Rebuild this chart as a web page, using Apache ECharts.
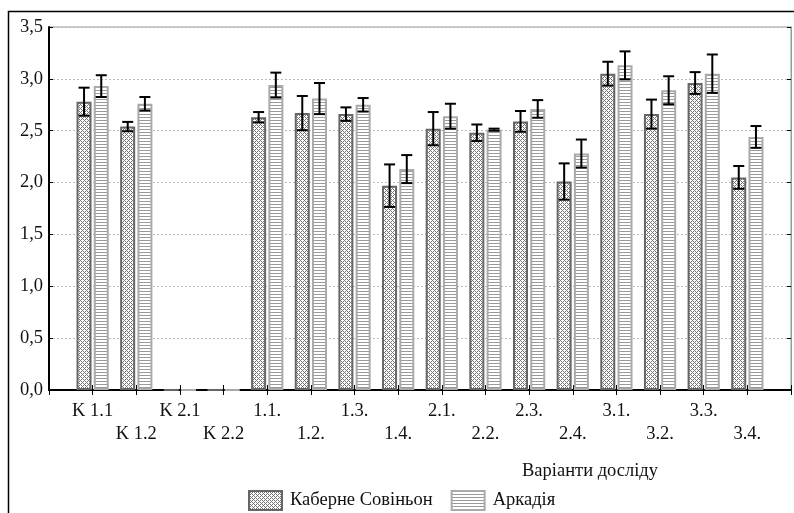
<!DOCTYPE html>
<html>
<head>
<meta charset="utf-8">
<script src="https://cdn.jsdelivr.net/npm/echarts@6/dist/echarts.min.js"></script>
<style>html,body{margin:0;padding:0;background:#fff}#c{width:794px;height:513px}</style>
</head>
<body>
<div id="c"></div>
<script>
// ---- data ----
const categories = ['K 1.1','K 1.2','K 2.1','K 2.2','1.1.','1.2.','1.3.','1.4.','2.1.','2.2.','2.3.','2.4.','3.1.','3.2.','3.3.','3.4.'];
const seriesNames = ['Каберне Совіньон','Аркадія'];
const cabernet    = [2.78,2.54,0,0,2.63,2.67,2.66,1.97,2.52,2.48,2.59,2.01,3.05,2.66,2.96,2.05];
const cabernetErr = [0.135,0.045,0,0,0.05,0.165,0.065,0.205,0.16,0.08,0.10,0.175,0.115,0.14,0.105,0.11];
const arkadia     = [2.93,2.76,0,0,2.94,2.81,2.75,2.13,2.64,2.51,2.71,2.28,3.13,2.89,3.05,2.44];
const arkadiaErr  = [0.105,0.065,0,0,0.12,0.15,0.065,0.135,0.12,0.01,0.085,0.135,0.135,0.135,0.185,0.105];
const yTicks = [0,0.5,1,1.5,2,2.5,3,3.5];
const xAxisTitle = 'Варіанти досліду';

// padded axis so categories sit on ticks like the reference
const axisCats = [''].concat(categories).concat(['']);
const pad = arr => [null].concat(arr).concat([null]);

function crossPattern(){
  const p=4, c=document.createElement('canvas'); c.width=p; c.height=p;
  const g=c.getContext('2d'); g.fillStyle='#fff'; g.fillRect(0,0,p,p);
  g.fillStyle='#757575';
  for(let y=0;y<p;y++) for(let x=0;x<p;x++){
    if(((x-y)%p+p)%p===0 || (x+y)%p===0) g.fillRect(x,y,1,1);
  }
  return c;
}
function stripePattern(){
  const c=document.createElement('canvas'); c.width=4; c.height=3;
  const g=c.getContext('2d'); g.fillStyle='#fff'; g.fillRect(0,0,4,3);
  g.fillStyle='#9a9a9a'; g.fillRect(0,0,4,1);
  return c;
}
const crossFill = {image: crossPattern(), repeat:'repeat'};
const stripeFill = {image: stripePattern(), repeat:'repeat'};

function errSeries(vals, errs, offset){
  const data = vals.map((v,i)=>[i+1, v, errs[i]]);
  return {
    type:'custom', xAxisIndex:0, yAxisIndex:0, silent:true, z:10,
    data: data,
    renderItem: function(params, api){
      const x = api.value(0), v = api.value(1), e = api.value(2);
      if(!v || !e) return null;
      const hi = api.coord([x, v+e]), lo = api.coord([x, v-e]);
      const cx = hi[0] + offset, hw = 5.5;
      const st = {stroke:'#000', lineWidth:2};
      return {type:'group', children:[
        {type:'line', shape:{x1:cx,y1:hi[1],x2:cx,y2:lo[1]}, style:st},
        {type:'line', shape:{x1:cx-hw,y1:hi[1],x2:cx+hw,y2:hi[1]}, style:st},
        {type:'line', shape:{x1:cx-hw,y1:lo[1],x2:cx+hw,y2:lo[1]}, style:st}
      ]};
    }
  };
}

const FONT = 'Liberation Serif';
const FS = 18.5;
const chart = echarts.init(document.getElementById('c'), null, {renderer:'canvas'});
chart.setOption({
  animation:false,
  backgroundColor:'#fff',
  textStyle:{fontFamily:FONT},
  grid:{left:49, right:1, top:27, bottom:123, show:true, borderColor:'#999', borderWidth:1},
  legend:{
    data:seriesNames, left:248, top:490, padding:0, icon:'rect',
    itemWidth:33, itemHeight:19, itemGap:18,
    textStyle:{fontFamily:FONT, fontSize:FS, color:'#111', padding:[0,0,0,3]}
  },
  xAxis:[{
    type:'category', data:axisCats, boundaryGap:false, position:'bottom',
    axisLine:{lineStyle:{color:'#000', width:2}},
    axisTick:{inside:true, length:5, interval:0, lineStyle:{color:'#000', width:1}},
    axisLabel:{interval:0, fontFamily:FONT, fontSize:FS, color:'#111', margin:10, lineHeight:23,
      formatter:(v,idx)=> (idx%2===0 ? '\n'+v : v)},
    splitLine:{show:false}
  },{
    type:'category', data:axisCats, boundaryGap:false, position:'top',
    axisLine:{lineStyle:{color:'#000', width:2}},
    axisTick:{inside:true, length:5, interval:0, lineStyle:{color:'#000', width:1}},
    axisLabel:{show:false}
  }],
  yAxis:[{
    type:'value', min:0, max:3.5, interval:0.5, position:'left',
    axisLine:{show:true, lineStyle:{color:'#000', width:2}},
    axisTick:{show:true, inside:true, length:4, lineStyle:{color:'#000'}},
    axisLabel:{fontFamily:FONT, fontSize:FS, color:'#111', margin:6,
      formatter:v=> yTicks.indexOf(v)>=0 ? v.toFixed(1).replace('.',',') : ''},
    splitLine:{show:true, lineStyle:{color:'#bbb', type:[2,2], width:1}}
  },{
    type:'value', min:0, max:3.5, interval:0.5, position:'right',
    axisLine:{show:true, lineStyle:{color:'#999', width:1}},
    axisTick:{show:true, inside:true, length:4, lineStyle:{color:'#000'}},
    axisLabel:{show:false}, splitLine:{show:false}
  }],
  series:[
    {name:seriesNames[0], type:'bar', data:pad(cabernet), barWidth:15, barGap:'15%',
     itemStyle:{color:crossFill, borderColor:'#666', borderWidth:2}},
    {name:seriesNames[1], type:'bar', data:pad(arkadia), barWidth:15, barGap:'15%',
     itemStyle:{color:stripeFill, borderColor:'#aaa', borderWidth:2}},
    errSeries(cabernet, cabernetErr, -8.6),
    errSeries(arkadia, arkadiaErr, 8.6)
  ],
  graphic:[
    {type:'rect', left:6, top:9, shape:{x:0,y:0,width:800,height:520}, silent:true, z:-1,
     style:{fill:null, stroke:'#000', lineWidth:1.5}},
    {type:'text', left:522, top:462, style:{text:xAxisTitle, font:FS+'px "Liberation Serif"', fill:'#111'}}
  ]
});
</script>
</body>
</html>
